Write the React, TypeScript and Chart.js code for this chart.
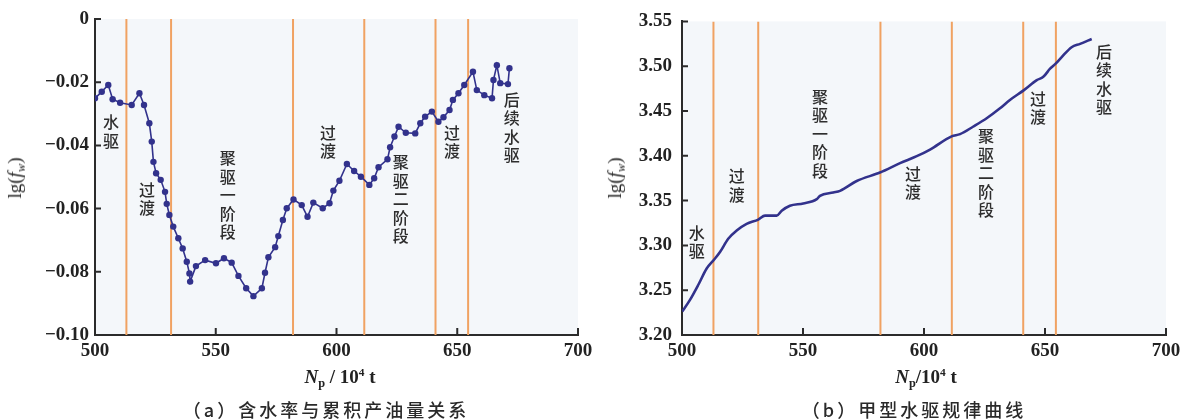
import React, { useEffect, useRef } from 'react';
import { Chart, registerables } from 'chart.js';

Chart.register(...registerables);

// ---------- data ----------
const xTickValues = [500, 550, 600, 650, 700];
const xTickLabels = ['500', '550', '600', '650', '700'];

const leftYTickValues = [0, -0.02, -0.04, -0.06, -0.08, -0.1];
const leftYTickLabels = ['0', '\u22120.02', '\u22120.04', '\u22120.06', '\u22120.08', '\u22120.10'];

const rightYTickValues = [3.2, 3.25, 3.3, 3.35, 3.4, 3.45, 3.5, 3.55];
const rightYTickLabels = ['3.20', '3.25', '3.30', '3.35', '3.40', '3.45', '3.50', '3.55'];

const stageBoundaries = [513, 531.5, 582, 611.5, 641, 654.5];
const stageNames = ['水驱', '过渡', '聚驱一阶段', '过渡', '聚驱二阶段', '过渡', '后续水驱'];
const leftStageNp = [506.6, 521.5, 555, 596.5, 626.6, 647.8, 672.6];
const leftStageLg = [-0.0326, -0.054, -0.044, -0.036, -0.0453, -0.036, -0.0256];
const rightStageNp = [506.1, 522.6, 557, 595.5, 625.6, 647.1, 674.4];
const rightStageLg = [3.314, 3.377, 3.466, 3.38, 3.422, 3.464, 3.516];

// (a) water cut vs cumulative oil
const waterCutNp = [
  500, 502.8, 505.5, 507.3, 510.4, 515.2, 518.4, 520.3, 522.5, 523.5,
  524.2, 525.3, 527.2, 529.0, 529.7, 530.8, 532.4, 534.5, 536.3, 538.0,
  539.1, 539.4, 541.8, 545.6, 550.1, 553.4, 556.6, 559.4, 562.6, 565.6,
  569.1, 570.4, 571.8, 574.6, 575.9, 577.8, 579.4, 582.2, 585.6, 588.0,
  590.4, 594.3, 597.1, 598.7, 601.2, 604.3, 607.3, 610.1, 613.6, 615.6,
  617.4, 621.1, 622.2, 624.0, 625.7, 628.7, 632.6, 634.7, 636.7, 639.5,
  642.2, 644.3, 646.8, 648.2, 650.5, 652.9, 656.5, 658.1, 661.2, 664.4,
  665.0, 666.4, 667.8, 671.0, 671.6,
];
const waterCutLg = [
  -0.0251, -0.0230, -0.0209, -0.0254, -0.0265, -0.0272, -0.0235, -0.0272, -0.0330, -0.0388,
  -0.0452, -0.0488, -0.0509, -0.0547, -0.0585, -0.0620, -0.0657, -0.0694, -0.0726, -0.0768,
  -0.0805, -0.0831, -0.0782, -0.0763, -0.0773, -0.0757, -0.0771, -0.0813, -0.0852, -0.0877,
  -0.0852, -0.0803, -0.0754, -0.0722, -0.0687, -0.0636, -0.0599, -0.0571, -0.0589, -0.0626,
  -0.0581, -0.0599, -0.0583, -0.0543, -0.0512, -0.0459, -0.0481, -0.0499, -0.0525, -0.0504,
  -0.0469, -0.0444, -0.0406, -0.0372, -0.0341, -0.0360, -0.0362, -0.0330, -0.0309, -0.0293,
  -0.0325, -0.0311, -0.0288, -0.0256, -0.0235, -0.0209, -0.0167, -0.0225, -0.0241, -0.0251,
  -0.0193, -0.0146, -0.0203, -0.0206, -0.0156,
];

// (b) type-A water drive curve
const typeANp = [
  500.1, 503.3, 506.7, 510.2, 513.3, 515.7, 519.1, 522.6, 526.7, 531.5,
  534.3, 539.1, 541.2, 544.6, 550.1, 555.7, 557.0, 562.5, 565.3, 572.2,
  581.8, 590.1, 597.0, 602.5, 611.4, 614.9, 620.4, 625.9, 631.4, 635.5,
  641.3, 646.6, 649.3, 652.1, 654.4, 656.9, 661.0, 664.5, 669.3,
];
const typeALg = [
  3.2262, 3.2392, 3.2558, 3.2742, 3.2842, 3.2926, 3.3074, 3.3166, 3.3240, 3.3288,
  3.3332, 3.3332, 3.3387, 3.3442, 3.3468, 3.3517, 3.3553, 3.3590, 3.3608, 3.3719,
  3.3813, 3.3918, 3.3996, 3.4070, 3.4217, 3.4242, 3.4327, 3.4419, 3.4530, 3.4623,
  3.4733, 3.4844, 3.4881, 3.4972, 3.5028, 3.5102, 3.5212, 3.5249, 3.5304,
];

// ---------- styling ----------
const BLUE = '#32328c';
const ORANGE = '#f0a262';
const AXIS = '#2b2b2b';
const PLOT_BG = '#f4f7fa';
const TICK_FONT = { family: "'Liberation Serif', 'Times New Roman', serif", size: 19, weight: 'bold' as const };
const CJK = "'Noto Sans CJK SC', sans-serif";

const W = 592;
const H = 419;

type PanelOpts = {
  xs: number[];
  ys: number[];
  points: boolean;
  yMin: number;
  yMax: number;
  yTicks: number[];
  yTickLabels: string[];
  stageNp: number[];
  stageLg: number[];
  yWidth: number;
  padRight: number;
  yLabelPad: number;
  lineWidth: number;
};

function buildConfig(o: PanelOpts): any {
  const boundaries = stageBoundaries.map((b) => ({
    data: [
      { x: b, y: o.yMin },
      { x: b, y: o.yMax },
    ],
    borderColor: ORANGE,
    borderWidth: 2,
    pointRadius: 0,
    fill: false,
    order: 2,
  }));
  const main = {
    data: o.xs.map((x, i) => ({ x, y: o.ys[i] })),
    borderColor: BLUE,
    backgroundColor: BLUE,
    borderWidth: o.lineWidth,
    pointRadius: o.points ? 3.2 : 0,
    pointBorderWidth: 0,
    pointBackgroundColor: BLUE,
    fill: false,
    tension: o.points ? 0 : 0.35,
    cubicInterpolationMode: o.points ? 'default' : 'monotone',
    order: 0,
  };

  const bgPlugin = {
    id: 'bgPlugin',
    beforeDraw(chart: any) {
      const { ctx, chartArea } = chart;
      ctx.save();
      ctx.fillStyle = '#ffffff';
      ctx.fillRect(0, 0, chart.width, chart.height);
      ctx.fillStyle = PLOT_BG;
      ctx.fillRect(chartArea.left, chartArea.top, chartArea.right - chartArea.left, chartArea.bottom - chartArea.top);
      ctx.restore();
    },
  };

  const tickPlugin = {
    id: 'tickPlugin',
    afterDraw(chart: any) {
      const { ctx, chartArea } = chart;
      const xs = chart.scales.x;
      const ys = chart.scales.y;
      ctx.save();
      ctx.strokeStyle = AXIS;
      ctx.lineWidth = 2;
      ctx.beginPath();
      xTickValues.forEach((v) => {
        const px = xs.getPixelForValue(v);
        ctx.moveTo(px, chartArea.bottom);
        ctx.lineTo(px, chartArea.bottom - 7);
      });
      o.yTicks.forEach((v) => {
        const py = ys.getPixelForValue(v);
        ctx.moveTo(chartArea.left, py);
        ctx.lineTo(chartArea.left + 6, py);
      });
      ctx.stroke();
      ctx.restore();
    },
  };

  const stagePlugin = {
    id: 'stagePlugin',
    afterDatasetsDraw(chart: any) {
      const { ctx } = chart;
      const xs = chart.scales.x;
      const ys = chart.scales.y;
      ctx.save();
      ctx.fillStyle = '#2e2e2e';
      ctx.font = `500 16px ${CJK}`;
      ctx.textAlign = 'center';
      ctx.textBaseline = 'middle';
      stageNames.forEach((name, i) => {
        const px = xs.getPixelForValue(o.stageNp[i]);
        const py = ys.getPixelForValue(o.stageLg[i]);
        Array.from(name).forEach((ch, k) => {
          ctx.fillText(ch, px, py + k * 18.5);
        });
      });
      ctx.restore();
    },
  };

  return {
    type: 'line',
    data: { datasets: [main, ...boundaries] },
    options: {
      animation: false,
      responsive: false,
      maintainAspectRatio: false,
      events: [],
      layout: { padding: { left: 0, right: o.padRight, top: 19, bottom: 0 } },
      plugins: { legend: { display: false }, tooltip: { enabled: false }, title: { display: false } },
      scales: {
        x: {
          type: 'linear',
          min: 500,
          max: 700,
          afterBuildTicks: (s: any) => {
            s.ticks = xTickValues.map((v) => ({ value: v }));
          },
          afterFit: (s: any) => {
            s.height = 84;
            s.paddingLeft = 0;
            s.paddingRight = 0;
          },
          grid: { display: true, drawOnChartArea: false, drawTicks: false },
          border: { display: true, color: AXIS, width: 2 },
          ticks: {
            autoSkip: false,
            maxRotation: 0,
            padding: 5,
            color: '#222',
            font: TICK_FONT,
            callback: (_v: any, i: number) => xTickLabels[i],
          },
        },
        y: {
          type: 'linear',
          min: o.yMin,
          max: o.yMax,
          afterBuildTicks: (s: any) => {
            s.ticks = o.yTicks.map((v) => ({ value: v }));
          },
          afterFit: (s: any) => {
            s.width = o.yWidth;
          },
          grid: { display: true, drawOnChartArea: false, drawTicks: false },
          border: { display: true, color: AXIS, width: 2 },
          ticks: {
            autoSkip: false,
            padding: o.yLabelPad,
            color: '#222',
            font: TICK_FONT,
            callback: (_v: any, i: number) => o.yTickLabels[i],
          },
        },
      },
    },
    plugins: [bgPlugin, tickPlugin, stagePlugin],
  };
}

function Panel({ opts, left }: { opts: PanelOpts; left: number }) {
  const ref = useRef<HTMLCanvasElement | null>(null);
  useEffect(() => {
    if (!ref.current) return;
    const chart = new Chart(ref.current, buildConfig(opts));
    return () => chart.destroy();
  }, []);
  return (
    <canvas
      ref={ref}
      width={W}
      height={H}
      style={{ position: 'absolute', left, top: 0, width: W, height: H }}
    />
  );
}

const serif = "'Liberation Serif', 'Times New Roman', serif";

export default function App() {
  const leftOpts: PanelOpts = {
    xs: waterCutNp,
    ys: waterCutLg,
    points: true,
    yMin: -0.1,
    yMax: 0,
    yTicks: leftYTickValues,
    yTickLabels: leftYTickLabels,
    stageNp: leftStageNp,
    stageLg: leftStageLg,
    yWidth: 95,
    padRight: 14,
    yLabelPad: 6,
    lineWidth: 1.6,
  };
  const rightOpts: PanelOpts = {
    xs: typeANp,
    ys: typeALg,
    points: false,
    yMin: 3.2,
    yMax: 3.55,
    yTicks: rightYTickValues,
    yTickLabels: rightYTickLabels,
    stageNp: rightStageNp,
    stageLg: rightStageLg,
    yWidth: 90,
    padRight: 18,
    yLabelPad: 10,
    lineWidth: 2.6,
  };

  const yTitleStyle = (x: number): React.CSSProperties => ({
    position: 'absolute',
    left: x,
    top: 178,
    transform: 'translate(-50%, -50%) rotate(-90deg)',
    fontFamily: serif,
    fontSize: 19,
    color: '#222',
    whiteSpace: 'nowrap',
    lineHeight: 1,
  });
  const xTitleStyle = (x: number): React.CSSProperties => ({
    position: 'absolute',
    left: x,
    top: 378,
    transform: 'translate(-50%, -50%)',
    fontFamily: serif,
    fontSize: 19,
    fontWeight: 'bold',
    color: '#222',
    whiteSpace: 'nowrap',
    lineHeight: 1,
  });
  const captionStyle = (x: number): React.CSSProperties => ({
    position: 'absolute',
    left: x,
    top: 409,
    transform: 'translate(-50%, -50%)',
    fontFamily: CJK,
    fontSize: 18,
    fontWeight: 500,
    letterSpacing: 3,
    color: '#2a2a2a',
    whiteSpace: 'nowrap',
    lineHeight: 1,
  });
  const sub: React.CSSProperties = { fontSize: '0.65em', verticalAlign: '-0.3em' };
  const sup: React.CSSProperties = { fontSize: '0.6em', verticalAlign: '0.6em' };

  return (
    <div style={{ position: 'fixed', left: 0, top: 0, width: 1184, height: 419, background: '#fff', overflow: 'hidden' }}>
      <Panel opts={leftOpts} left={0} />
      <Panel opts={rightOpts} left={592} />
      <div style={yTitleStyle(16)}>
        lg(<i>f</i>
        <i style={sub}>w</i>)
      </div>
      <div style={yTitleStyle(616)}>
        lg(<i>f</i>
        <i style={sub}>w</i>)
      </div>
      <div style={xTitleStyle(340)}>
        <i>N</i>
        <span style={sub}>p</span> / 10<span style={sup}>4</span> t
      </div>
      <div style={xTitleStyle(926)}>
        <i>N</i>
        <span style={sub}>p</span>/10<span style={sup}>4</span> t
      </div>
      <div style={captionStyle(326)}>（a）含水率与累积产油量关系</div>
      <div style={captionStyle(914)}>（b）甲型水驱规律曲线</div>
    </div>
  );
}
